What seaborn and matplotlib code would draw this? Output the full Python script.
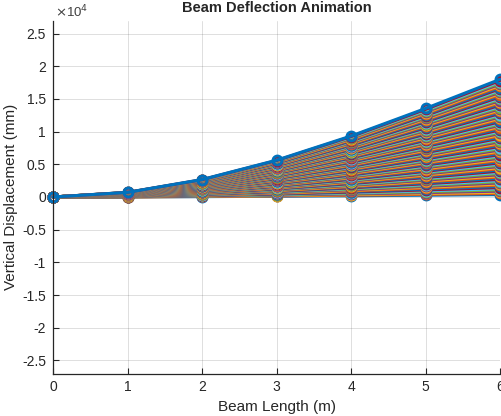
import numpy as np
import pandas as pd
import matplotlib
matplotlib.use('Agg')
import matplotlib.pyplot as plt
import seaborn as sns

# ============================================================
# DATA
# ============================================================

beam_x = [0, 1, 2, 3, 4, 5, 6]                                   # m
final_defl = [0, 710, 2670, 5630, 9330, 13540, 18000]            # mm, last frame

# load step (%) of each animation frame, drawn in this order
load_pct = [
    2, 3, 4, 5, 6, 7, 8, 9, 10, 11, 12, 13, 14, 15, 16, 17, 18, 19, 20, 21,
    22, 23, 24, 25, 26, 27, 28, 29, 30, 31, 32, 33, 34, 35, 36, 37, 38, 39, 40, 41,
    42, 43, 44, 45, 46, 47, 48, 49, 50, 51, 52, 53, 54, 55, 56, 57, 58, 59, 60, 61,
    62, 63, 64, 65, 66, 67, 68, 69, 70, 71, 72, 73, 74, 75, 76, 77, 78, 79, 80, 81,
    82, 83, 84, 85, 86, 87, 88, 89, 90, 91, 92, 93, 94, 95, 96, 97, 98, 99, 100,
]

x_ticks = [0, 1, 2, 3, 4, 5, 6]
y_ticks = [-25000, -20000, -15000, -10000, -5000, 0, 5000, 10000, 15000, 20000, 25000]
y_tick_labels = ['-2.5', '-2', '-1.5', '-1', '-0.5', '0', '0.5', '1', '1.5', '2', '2.5']

# MATLAB default colour order
matlab_colors = ['#0072BD', '#D95319', '#EDB120', '#7E2F8E', '#77AC30', '#4DBEEE', '#A2142F']

# ============================================================
# LONG FORM TABLE
# ============================================================

rows = []
for pct in load_pct:
    for bx, d in zip(beam_x, final_defl):
        rows.append({'frame': f'f{pct}', 'x': bx, 'y': d * pct / 100})
df = pd.DataFrame(rows)

frame_order = [f'f{p}' for p in load_pct]
palette = {f: matlab_colors[i % len(matlab_colors)] for i, f in enumerate(frame_order)}

# ============================================================
# PLOT
# ============================================================

sns.set_style('white')
plt.rcParams['font.family'] = ['Liberation Sans', 'DejaVu Sans']

fig = plt.figure(figsize=(5.01, 4.16), dpi=100)
ax = fig.add_axes([53 / 501, 1 - 373.5 / 416, 447 / 501, 353 / 416])

sns.lineplot(data=df, x='x', y='y', hue='frame', hue_order=frame_order,
             palette=palette, estimator=None, sort=False, legend=False,
             marker='o', markersize=6.5, linewidth=2.2, ax=ax)

for line in ax.lines:
    line.set_markerfacecolor('none')
    line.set_markeredgecolor(line.get_color())
    line.set_markeredgewidth(2.0)
    line.set_clip_on(False)

ax.set_xlim(0, 6)
ax.set_ylim(-27000, 27000)
ax.set_xticks(x_ticks)
ax.set_xticklabels([str(t) for t in x_ticks])
ax.set_yticks(y_ticks)
ax.set_yticklabels(y_tick_labels)

ax.grid(True, color='#262626', alpha=0.15, linewidth=0.7)
ax.set_axisbelow(True)
for side in ['top', 'right']:
    ax.spines[side].set_visible(False)
for side in ['left', 'bottom']:
    ax.spines[side].set_color('#262626')
    ax.spines[side].set_linewidth(0.9)

ax.tick_params(direction='in', length=4, width=0.8, labelsize=10,
               colors='#262626', bottom=True, left=True, pad=5)

ax.set_xlabel('Beam Length (m)', fontsize=11, color='#262626', labelpad=4)
ax.set_ylabel('Vertical Displacement (mm)', fontsize=11, color='#262626', labelpad=3)
ax.set_title('Beam Deflection Animation', fontsize=10.5, fontweight='bold', pad=6)

ax.text(0.005, 1.008, r'$\times$10$^{4}$', transform=ax.transAxes,
        fontsize=9.5, color='#404040', ha='left', va='baseline')

plt.savefig('out.png', dpi=100)
